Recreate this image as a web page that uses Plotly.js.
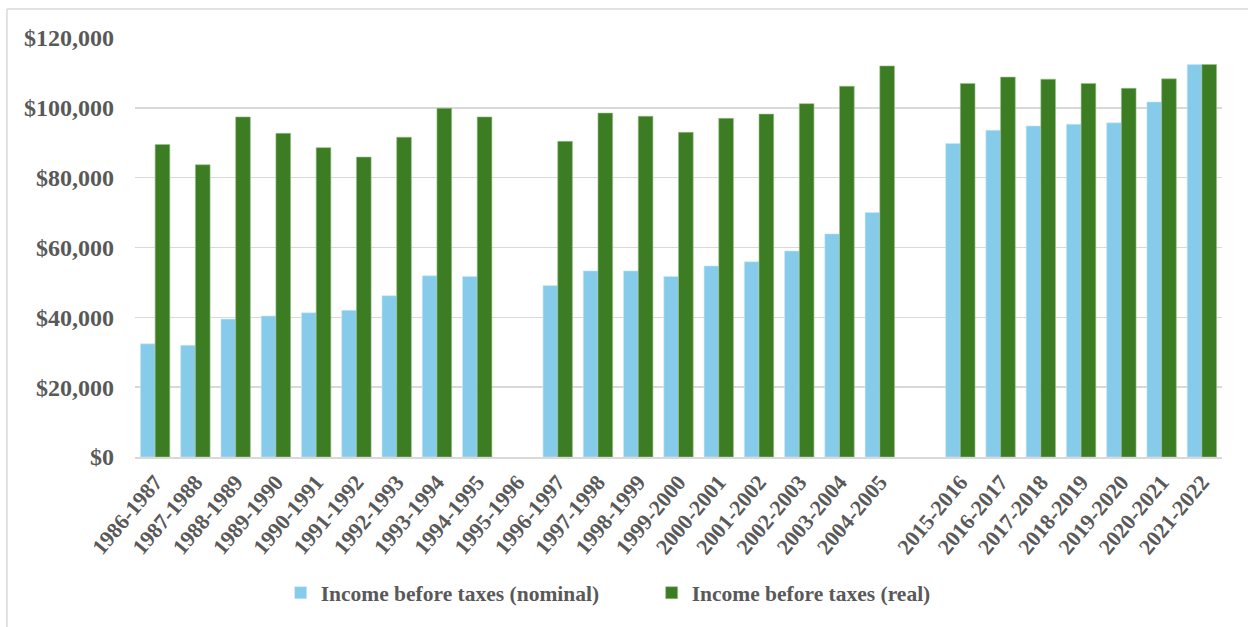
<!DOCTYPE html>
<html>
<head>
<meta charset="utf-8">
<script src="https://cdn.plot.ly/plotly-3.0.1.min.js"></script>
<style>html,body{margin:0;padding:0;background:#fff;}#chart{width:1248px;height:627px;}</style>
</head>
<body>
<div id="chart"></div>
<script>
const categories = ["1986-1987","1987-1988","1988-1989","1989-1990","1990-1991","1991-1992","1992-1993","1993-1994","1994-1995","1995-1996","1996-1997","1997-1998","1998-1999","1999-2000","2000-2001","2001-2002","2002-2003","2003-2004","2004-2005"," ","2015-2016","2016-2017","2017-2018","2018-2019","2019-2020","2020-2021","2021-2022"];
const nominal = [32400,32000,39500,40400,41300,42000,46200,51900,51700,null,49100,53300,53300,51700,54700,55900,59000,63900,70000,null,89800,93600,94800,95300,95700,101700,112400];
const real = [89500,83700,97400,92700,88600,85900,91600,99900,97400,null,90400,98500,97600,93000,97000,98200,101200,106200,112000,null,107000,108800,108200,107000,105600,108300,112400];
const seriesNames = ["Income before taxes (nominal)","Income before taxes (real)"];
const yTickVals = [0,20000,40000,60000,80000,100000,120000];
const yTickText = ["$0","$20,000","$40,000","$60,000","$80,000","$100,000","$120,000"];

const txt = '#595959';
const fam = '"Liberation Serif","Times New Roman",serif';

const traces = [
  {type:'bar', name:seriesNames[0], x:categories, y:nominal,
   marker:{color:'#87CBEA', line:{color:'#c9e8f5', width:0.6}}},
  {type:'bar', name:seriesNames[1], x:categories, y:real,
   marker:{color:'#3C7D23', line:{color:'#9cc08c', width:0.6}}}
];

const layout = {
  width:1248, height:627,
  margin:{l:135, r:26, t:38, b:170},
  paper_bgcolor:'#fff', plot_bgcolor:'#fff',
  barmode:'group', bargap:0.27, bargroupgap:0,
  showlegend:true,
  legend:{orientation:'h', x:0.134, xanchor:'left', y:-0.324, yanchor:'middle',
          font:{family:fam, size:21.5, color:txt, weight:'bold'}, entrywidth:326, traceorder:'normal'},
  xaxis:{type:'category', tickangle:-50, showgrid:false, zeroline:false,
         showline:true, linecolor:'#d9d9d9', linewidth:1.5, ticks:'',
         ticklabelstandoff:2,
         tickfont:{family:fam, size:22, color:txt, weight:'bold'}},
  yaxis:{range:[0,120000], tickvals:yTickVals, ticktext:yTickText,
         showgrid:true, gridcolor:'#d9d9d9', gridwidth:1.5, zeroline:false,
         showline:false, ticks:'', ticklabelstandoff:20,
         tickfont:{family:fam, size:24, color:txt, weight:'bold'}},
  shapes:[
    {type:'line', xref:'paper', yref:'paper', x0:-0.1178, x1:1.03, y0:1.069, y1:1.069, line:{color:'#d9d9d9', width:1.5}},
    {type:'line', xref:'paper', yref:'paper', x0:-0.1178, x1:-0.1178, y0:1.069, y1:-0.42, line:{color:'#d9d9d9', width:1.5}}
  ]
};

Plotly.newPlot('chart', traces, layout, {displayModeBar:false, staticPlot:true});
</script>
</body>
</html>
